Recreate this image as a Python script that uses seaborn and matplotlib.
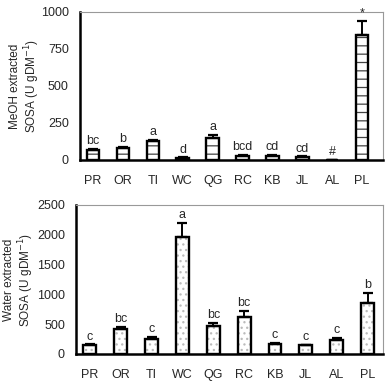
import numpy as np
import pandas as pd
import matplotlib
matplotlib.use("Agg")
import matplotlib.pyplot as plt
from matplotlib.patches import Rectangle
import seaborn as sns

sns.set_style("white")
plt.rcParams['font.family'] = ['Liberation Sans', 'DejaVu Sans']
plt.rcParams['hatch.linewidth'] = 0.9

# @@ Data
sites = ['PR', 'OR', 'TI', 'WC', 'QG', 'RC', 'KB', 'JL', 'AL', 'PL']

meoh_mean = [68, 78, 128, 15, 150, 30, 28, 20, 0, 845]
meoh_err = [6, 12, 8, 3, 18, 5, 4, 5, 0, 95]
meoh_letters = ['bc', 'b', 'a', 'd', 'a', 'bcd', 'cd', 'cd', '#', '*']

water_mean = [156, 418, 256, 1965, 462, 618, 173, 145, 240, 857]
water_err = [5, 42, 35, 235, 55, 100, 8, 12, 27, 172]
water_letters = ['c', 'bc', 'c', 'a', 'bc', 'bc', 'c', 'c', 'c', 'b']
# @@


def draw_panel(ax, mean, err, letters, hatch, hcolor, ylabel, ymax, step, xlim, labx):
    df = pd.DataFrame({'site': sites, 'value': mean})
    sns.barplot(data=df, x='site', y='value', ax=ax, color='white',
                edgecolor=hcolor, linewidth=0, width=0.42, errorbar=None)
    # hatch drawn in grey, black outline laid on top
    for p in list(ax.patches):
        p.set_hatch(hatch)
        ax.add_patch(Rectangle(p.get_xy(), p.get_width(), p.get_height(),
                               facecolor='none', edgecolor='black',
                               linewidth=1.7, zorder=p.get_zorder() + 0.1))
    pos = np.arange(len(sites))
    lo = np.zeros(len(err))
    ax.errorbar(pos, mean, yerr=[lo, err], fmt='none', ecolor='black',
                elinewidth=1.4, capsize=3.5, capthick=1.6)
    for x, m, e, t in zip(pos, mean, err, letters):
        ax.text(x, m + e + ymax * 0.012, t, ha='center', va='bottom', fontsize=9)
    ax.set_ylim(0, ymax)
    ax.set_yticks(np.arange(0, ymax + 1, step))
    ax.set_xlim(*xlim)
    ax.set_xlabel('')
    ax.set_ylabel(ylabel, fontsize=8.5, linespacing=1.1)
    ax.yaxis.set_label_coords(labx, 0.5)
    ax.tick_params(axis='y', labelsize=9, length=0, pad=8)
    ax.tick_params(axis='x', labelsize=9, length=0, pad=11)
    for s in ['left', 'bottom']:
        ax.spines[s].set_color('black')
        ax.spines[s].set_linewidth(1.8)
    for s in ['top', 'right']:
        ax.spines[s].set_color('#999999')
        ax.spines[s].set_linewidth(0.8)


fig = plt.figure(figsize=(3.92, 3.86), dpi=100)
ax1 = fig.add_axes([0.204, 0.5855, 0.773, 0.3835])
ax2 = fig.add_axes([0.194, 0.083, 0.783, 0.386])

draw_panel(ax1, meoh_mean, meoh_err, meoh_letters, '--', '#444444',
           'MeOH extracted\nSOSA (U gDM$^{-1}$)', 1000, 250, (-0.44, 9.7), -0.125)
draw_panel(ax2, water_mean, water_err, water_letters, '...', '#bbbbbb',
           'Water extracted\nSOSA (U gDM$^{-1}$)', 2500, 500, (-0.45, 9.5), -0.13)

fig.savefig('out.png', dpi=100)
